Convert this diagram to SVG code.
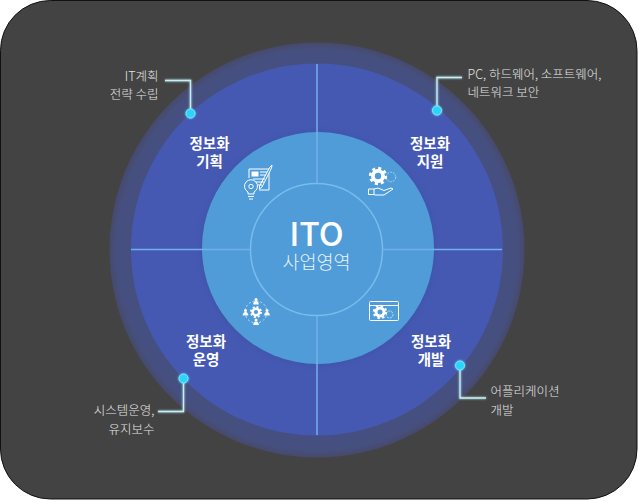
<svg xmlns="http://www.w3.org/2000/svg" width="638" height="501" viewBox="0 0 638 501">
<style>
text{font-family:"Noto Sans CJK KR","Noto Sans",sans-serif;text-anchor:middle}
.lab{font-size:12.500px;fill:#e4e4e4;font-weight:300}
.end{text-anchor:end}
.start{text-anchor:start}
.tt{font-size:14.500px;fill:#fff;font-weight:700}
.div{stroke:#76aeea;stroke-width:1.5;fill:none}
.con{stroke:#c4f1f6;stroke-width:1.3;fill:none;filter:url(#gl)}
.dot{fill:#2bd4fb;stroke:#7fe6fb;stroke-width:1;filter:url(#gl)}
.ic{fill:none;stroke:#fff;stroke-width:1}
.wf{fill:#fff}
</style>
<defs>
<radialGradient id="halo" gradientUnits="userSpaceOnUse" cx="317" cy="250" r="208">
<stop offset="0" stop-color="#465080"/><stop offset="0.96" stop-color="#465080"/><stop offset="1" stop-color="#46496a"/>
</radialGradient>
<filter id="gl" x="-50%" y="-50%" width="200%" height="200%"><feGaussianBlur stdDeviation="1.2" result="b"/><feMerge><feMergeNode in="b"/><feMergeNode in="SourceGraphic"/></feMerge></filter>
<filter id="sh" x="-20%" y="-20%" width="140%" height="140%"><feGaussianBlur stdDeviation="2.5"/></filter>
<g id="gear"><circle r="3.500" fill="none" stroke="#fff" stroke-width="2.600"/><circle r="5.200" fill="none" stroke="#fff" stroke-width="2.200" stroke-dasharray="2.040 2.040"/></g>
<g id="person"><circle cy="-2.600" r="1.500" class="wf"/><path d="M-2.800 2.500 Q-2.800 -1 0 -1 Q2.800 -1 2.800 2.500Z" class="wf"/></g>
</defs>
<rect x="0.500" y="0.500" width="636.500" height="498.500" rx="50" ry="50" fill="#434343" stroke="#111" stroke-width="1"/>
<g id="rings">
<circle cx="317" cy="250" r="207.500" fill="url(#halo)"/>
<circle cx="317" cy="249.500" r="186" fill="#4559b3"/>
<circle cx="318" cy="248.500" r="118" fill="#3d52a3" filter="url(#sh)" opacity="0.6"/>
<circle cx="318" cy="248" r="116" fill="#4f9cd9"/>
<circle cx="316.500" cy="249.500" r="66" fill="#4f9cd9" stroke="#78bcec" stroke-width="1.500"/>
</g>
<g id="connectors">
<path class="div" d="M317 64V183M317 316V435M131 249.500H250.500M382.500 249.500H502"/>
<path class="con" d="M165 80.500H190.500V110"/>
<path class="con" d="M462 77.500H437V108"/>
<path class="con" d="M158 411.500H183.500V381"/>
<path class="con" d="M486 398H460V368"/>
</g>
<g id="center"><text x="316.500" y="246" font-size="33" fill="#fff" font-weight="500">ITO<tspan x="316.500" y="269" font-size="18.500" fill="#e8f2fa" font-weight="300">사업영역</tspan></text></g>
<g id="plan">
<circle class="dot" cx="190.500" cy="113.500" r="4.500"/>
<text class="lab end" x="158.500" y="81">IT계획<tspan x="158.500" y="99">전략 수립</tspan></text>
<text class="tt" x="209.500" y="149">정보화<tspan x="209.500" y="167">기획</tspan></text>
<g class="ic"><path d="M249 178V169H269V190H259"/><path d="M270 167L272 165L271.500 168L262 187L259.500 189L259.500 186Z" fill="#4f9cd9"/><rect x="252" y="172" width="6" height="4" class="wf"/><path d="M260 172H267M260 175H266M253 179H265M254 182H264M258 185H262"/><path d="M248 192 A6.500 6.500 0 1 1 254 192V194H248Z" fill="#4f9cd9"/><circle cx="251" cy="186.500" r="2.200"/><path d="M248 196.500H254M249 199H253"/></g>
</g>
<g id="support">
<circle class="dot" cx="437" cy="110.500" r="4.500"/>
<text class="lab start" x="467.500" y="79">PC, 하드웨어, 소프트웨어,<tspan x="467.500" y="97">네트워크 보안</tspan></text>
<text class="tt" x="430" y="149">정보화<tspan x="430" y="167">지원</tspan></text>
<circle cx="391" cy="177" r="4.800" fill="none" stroke="#a9d3f0" stroke-width="1" stroke-dasharray="2 1"/>
<use href="#gear" transform="translate(378 176) scale(1.450)"/>
<path class="ic" d="M368.500 189H374L378 188L384 190.500L391 188L393 189L384 195H375L374 194.500H368.500Z M374 189V194.500"/>
</g>
<g id="dev">
<circle class="dot" cx="460" cy="365.500" r="4.500"/>
<text class="lab start" x="490.500" y="396">어플리케이션<tspan x="490.500" y="415">개발</tspan></text>
<text class="tt" x="431" y="347">정보화<tspan x="431" y="365">개발</tspan></text>
<rect class="ic" x="369.500" y="301.500" width="29" height="19" rx="1"/><path class="ic" d="M369.500 305.500H398.500"/>
<use href="#gear" transform="translate(380 312) scale(1.150)"/>
<circle cx="389.500" cy="314.500" r="3.500" fill="none" stroke="#c7e2f5" stroke-width="1" stroke-dasharray="2 1"/>
</g>
<g id="ops">
<circle class="dot" cx="183.500" cy="378.500" r="4.500"/>
<text class="lab end" x="154.500" y="415">시스템운영,<tspan x="154.500" y="433.500">유지보수</tspan></text>
<text class="tt" x="206" y="347">정보화<tspan x="206" y="365">운영</tspan></text>
<circle cx="256" cy="312" r="11" fill="none" stroke="#dff0fb" stroke-width="0.800" stroke-dasharray="2 2"/>
<use href="#gear" transform="translate(256 312) scale(0.950)"/>
<use href="#person" x="256" y="302"/><use href="#person" x="256" y="322.500"/><use href="#person" x="245.500" y="313"/><use href="#person" x="267" y="313"/>
</g>
</svg>
